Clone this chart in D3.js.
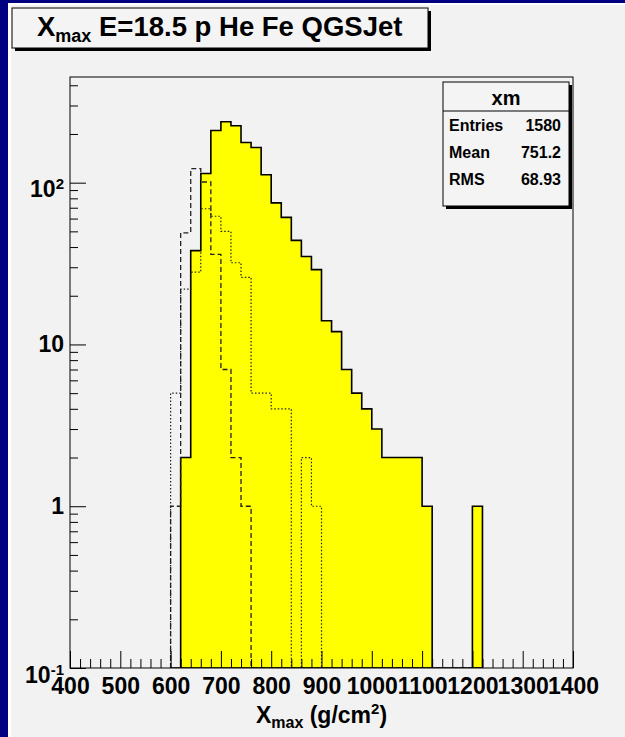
<!DOCTYPE html>
<html>
<head>
<meta charset="utf-8">
<script src="https://cdn.jsdelivr.net/npm/d3@7"></script>
<style>
html, body { margin: 0; padding: 0; background: #000080; }
#chart { position: absolute; left: 0; top: 0; }
text { font-family: "Liberation Sans", Arial, Helvetica, sans-serif; font-weight: bold; fill: #000; }
</style>
</head>
<body>
<div id="chart"></div>
<script>
// bins are 20 g/cm2 wide, axis 400..1400
var binWidth = 20;
var binStart = [600, 620, 640, 660, 680, 700, 720, 740, 760, 780, 800, 820, 840, 860, 880, 900,
                920, 940, 960, 980, 1000, 1020, 1040, 1060, 1080, 1100, 1120, 1140, 1160, 1180, 1200];
// p (filled yellow, "xm")
var protonCounts = [0, 2, 38, 114, 210, 238, 225, 177, 165, 112, 75, 61, 44, 35, 29, 14,
                    12, 7, 5, 4, 3, 2, 2, 2, 2, 1, 0, 0, 0, 0, 1];
// He (dotted)
var heliumCounts = [5, 22, 28, 69, 62, 50, 32, 26, 5, 5, 4, 4, 0, 2, 1, 0,
                    0, 0, 0, 0, 0, 0, 0, 0, 0, 0, 0, 0, 0, 0, 0];
// Fe (dashed)
var ironCounts = [1, 49, 122, 101, 36, 7, 2, 1, 0, 0, 0, 0, 0, 0, 0, 0,
                  0, 0, 0, 0, 0, 0, 0, 0, 0, 0, 0, 0, 0, 0, 0];

var xMajorTicks = [400, 500, 600, 700, 800, 900, 1000, 1100, 1200, 1300, 1400];
var yMajorTicks = [0.1, 1, 10, 100];
var yTickLabels = [["10", "-1"], ["1", ""], ["10", ""], ["10", "2"]];
var statsLabels = ["Entries", "Mean", "RMS"];
var statsValues = ["1580", "751.2", "68.93"];

var W = 625, H = 737;
var svg = d3.select("#chart").append("svg")
    .attr("width", W)
    .attr("height", H);

// canvas background
svg.append("rect").attr("width", W).attr("height", H).attr("fill", "#000080");
svg.append("rect").attr("x", 8).attr("y", 3).attr("width", W - 8).attr("height", H - 3).attr("fill", "#ffffff");
svg.append("rect").attr("x", 11).attr("y", 5).attr("width", W - 11).attr("height", H - 5).attr("fill", "#f2f2f2");

var frame = {left: 70, right: 573, top: 77, bottom: 668};

var x = d3.scaleLinear()
    .domain([400, 1400])
    .range([frame.left, frame.right]);

var y = d3.scaleLog()
    .domain([0.1, 450])
    .range([frame.bottom, frame.top]);

svg.append("clipPath").attr("id", "frame-clip")
    .append("rect")
    .attr("x", frame.left).attr("y", frame.top)
    .attr("width", frame.right - frame.left).attr("height", frame.bottom - frame.top);

// step outline of a histogram, empty bins go down to the frame bottom
function histPoints(counts) {
    var base = frame.bottom;
    var pts = [[x(binStart[0]), base]];
    counts.forEach(function (c, i) {
        var yy = c > 0 ? y(c) : base;
        pts.push([x(binStart[i]), yy]);
        pts.push([x(binStart[i] + binWidth), yy]);
    });
    pts.push([x(binStart[binStart.length - 1] + binWidth), base]);
    return pts;
}

var line = d3.line();
var plot = svg.append("g").attr("clip-path", "url(#frame-clip)");

// p filled
plot.append("path")
    .attr("d", line(histPoints(protonCounts)) + "Z")
    .attr("fill", "#ffff00")
    .attr("stroke", "#000")
    .attr("stroke-width", 1.6);

// He dotted
plot.append("path")
    .attr("d", line(histPoints(heliumCounts)))
    .attr("fill", "none")
    .attr("stroke", "#222")
    .attr("stroke-width", 1.2)
    .attr("stroke-dasharray", "1.5,2");

// Fe dashed
plot.append("path")
    .attr("d", line(histPoints(ironCounts)))
    .attr("fill", "none")
    .attr("stroke", "#222")
    .attr("stroke-width", 1.3)
    .attr("stroke-dasharray", "5,3");

// frame
svg.append("rect")
    .attr("x", frame.left).attr("y", frame.top)
    .attr("width", frame.right - frame.left).attr("height", frame.bottom - frame.top)
    .attr("fill", "none")
    .attr("stroke", "#000")
    .attr("stroke-width", 1);

// X axis minor ticks
var xMinor = d3.range(400, 1401, 20).filter(function (v) { return v % 100 !== 0; });
svg.append("g")
    .attr("transform", "translate(0," + frame.bottom + ")")
    .call(d3.axisBottom(x).tickValues(xMinor).tickSize(-9).tickSizeOuter(0).tickFormat(""))
    .call(function (s) { s.select(".domain").remove(); });

// X axis major ticks + labels
svg.append("g")
    .attr("class", "x-axis")
    .attr("transform", "translate(0," + frame.bottom + ")")
    .call(d3.axisBottom(x).tickValues(xMajorTicks).tickSize(-17).tickSizeOuter(0).tickPadding(10)
        .tickFormat(d3.format("d")))
    .attr("font-size", 23)
    .call(function (s) { s.select(".domain").remove(); });

// Y axis minor ticks
var yMinor = [];
[0.1, 1, 10, 100].forEach(function (dec) {
    for (var k = 2; k <= 9; k++) {
        if (k * dec <= 450) yMinor.push(k * dec);
    }
});
svg.append("g")
    .attr("transform", "translate(" + frame.left + ",0)")
    .call(d3.axisLeft(y).tickValues(yMinor).tickSize(-8).tickSizeOuter(0).tickFormat(""))
    .call(function (s) { s.select(".domain").remove(); });

// Y axis major ticks + labels with exponents
var yAxis = svg.append("g")
    .attr("class", "y-axis")
    .attr("transform", "translate(" + frame.left + ",0)")
    .call(d3.axisLeft(y).tickValues(yMajorTicks).tickSize(-16).tickSizeOuter(0).tickPadding(6)
        .tickFormat(""))
    .attr("font-size", 23)
    .call(function (s) { s.select(".domain").remove(); });

yAxis.selectAll(".tick text").each(function (d, i) {
    var lab = yTickLabels[i];
    var t = d3.select(this).text(null);
    t.attr("dy", lab[1] ? "14px" : "0.32em");
    t.append("tspan").text(lab[0]);
    if (lab[1]) {
        t.append("tspan").attr("dy", -8).attr("font-size", 15).text(lab[1]);
    }
});

// X axis title
var xt = svg.append("text")
    .attr("x", (frame.left + frame.right) / 2)
    .attr("y", 723)
    .attr("text-anchor", "middle")
    .attr("font-size", 23);
xt.append("tspan").text("X");
xt.append("tspan").attr("dy", 5).attr("font-size", 16).text("max");
xt.append("tspan").attr("dy", -5).text(" (g/cm");
xt.append("tspan").attr("dy", -9).attr("font-size", 15).text("2");
xt.append("tspan").attr("dy", 9).text(")");

// title box
var tb = {x: 12, y: 8, w: 416, h: 40};
svg.append("rect").attr("x", tb.x + 3).attr("y", tb.y + 3).attr("width", tb.w).attr("height", tb.h).attr("fill", "#000");
svg.append("rect").attr("x", tb.x).attr("y", tb.y).attr("width", tb.w).attr("height", tb.h)
    .attr("fill", "#f4f4f4").attr("stroke", "#000").attr("stroke-width", 1);
var tt = svg.append("text")
    .attr("x", 37)
    .attr("y", 36)
    .attr("font-size", 27.5);
tt.append("tspan").text("X");
tt.append("tspan").attr("dy", 6).attr("font-size", 18).text("max");
tt.append("tspan").attr("dy", -6).text(" E=18.5 p He Fe QGSJet");

// stats box
var sb = {x: 443, y: 82, w: 126, h: 124};
svg.append("rect").attr("x", sb.x + 3).attr("y", sb.y + 3).attr("width", sb.w).attr("height", sb.h).attr("fill", "#000");
svg.append("rect").attr("x", sb.x).attr("y", sb.y).attr("width", sb.w).attr("height", sb.h)
    .attr("fill", "#f4f4f4").attr("stroke", "#000").attr("stroke-width", 1);
svg.append("line")
    .attr("x1", sb.x).attr("x2", sb.x + sb.w)
    .attr("y1", 111).attr("y2", 111)
    .attr("stroke", "#000");
svg.append("text")
    .attr("x", sb.x + sb.w / 2)
    .attr("y", 105)
    .attr("text-anchor", "middle")
    .attr("font-size", 20)
    .text("xm");

var rowBase = [131, 158, 185];
statsLabels.forEach(function (lab, i) {
    svg.append("text").attr("x", 449).attr("y", rowBase[i]).attr("font-size", 16).text(lab);
    svg.append("text").attr("x", 561).attr("y", rowBase[i]).attr("font-size", 16)
        .attr("text-anchor", "end").text(statsValues[i]);
});
</script>
</body>
</html>
